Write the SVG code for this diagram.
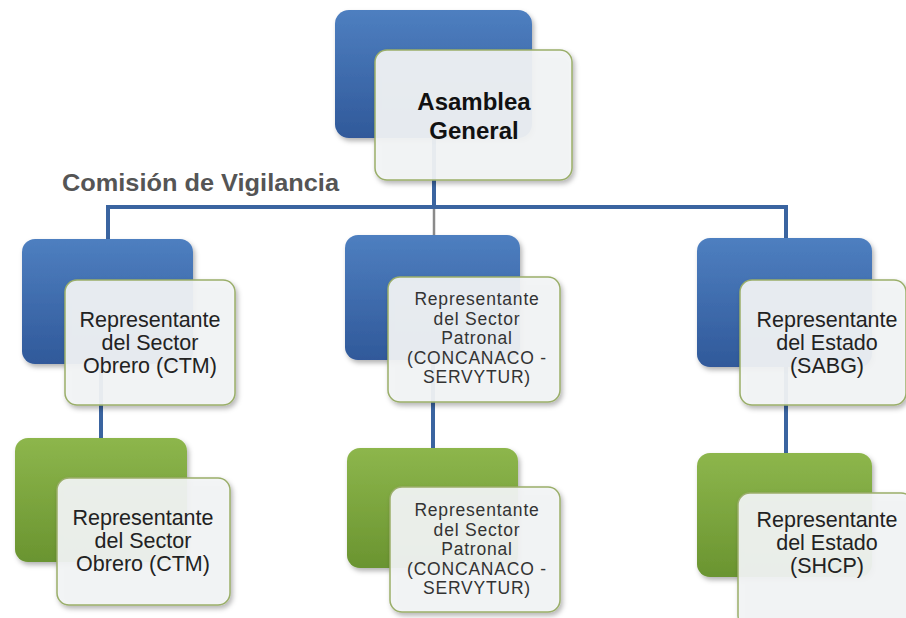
<svg xmlns="http://www.w3.org/2000/svg" width="906" height="618" viewBox="0 0 906 618">
<style>
.blue{fill:url(#gb);filter:url(#sh)}
.green{fill:url(#gg);filter:url(#sh)}
.card{fill:#f3f5f6;fill-opacity:0.92;stroke:#9aae6a;stroke-width:1.5;filter:url(#sh)}
.t{font-family:"Liberation Sans",Arial,sans-serif;fill:#222;text-anchor:middle}
.big{font-size:21.5px}
.small{font-size:17.5px;letter-spacing:0.8px;fill:#333}
.title{font-size:24px;font-weight:bold;fill:#111}
.lbl{font-family:"Liberation Sans",Arial,sans-serif;font-size:23px;font-weight:bold;fill:#555}
.c{stroke:#3a64a0;stroke-width:4;fill:none}
.cg{stroke:#8a8a8a;stroke-width:2.5;fill:none}
</style>
<defs>
<linearGradient id="gb" x1="0" y1="0" x2="0" y2="1">
<stop offset="0" stop-color="#4e7fc0"/>
<stop offset="1" stop-color="#30599a"/>
</linearGradient>
<linearGradient id="gg" x1="0" y1="0" x2="0" y2="1">
<stop offset="0" stop-color="#8db64c"/>
<stop offset="1" stop-color="#6a9430"/>
</linearGradient>
<filter id="sh" x="-10%" y="-10%" width="125%" height="130%">
<feDropShadow dx="2" dy="3" stdDeviation="2.5" flood-color="#000" flood-opacity="0.3"/>
</filter>
</defs>
<rect width="906" height="618" fill="#ffffff"/>
<g id="connectors">
<line class="c" x1="434" y1="138" x2="434" y2="207"/>
<line class="c" x1="106" y1="207" x2="788" y2="207"/>
<line class="c" x1="108" y1="205" x2="108" y2="240"/>
<line class="c" x1="786" y1="205" x2="786" y2="238"/>
<line class="cg" x1="434" y1="209" x2="434" y2="236"/>
<line class="c" x1="101" y1="363" x2="101" y2="438"/>
<line class="c" x1="433" y1="360" x2="433" y2="448"/>
<line class="c" x1="786" y1="367" x2="786" y2="453"/>
</g>
<g id="comision">
<text class="lbl" x="62" y="191" textLength="277" lengthAdjust="spacingAndGlyphs">Comisión de Vigilancia</text>
</g>
<g id="asamblea">
<rect class="blue" x="335" y="10" width="197" height="128" rx="14"/>
<rect class="card" x="375" y="50" width="197" height="130" rx="12"/>
<text class="t title" x="474" y="110">Asamblea</text>
<text class="t title" x="474" y="139">General</text>
</g>
<g id="obrero1">
<rect class="blue" x="22" y="239" width="171" height="125" rx="13"/>
<rect class="card" x="65" y="280" width="170" height="125" rx="12"/>
<text class="t big" x="150" y="327">Representante</text>
<text class="t big" x="150" y="350">del Sector</text>
<text class="t big" x="150" y="373">Obrero (CTM)</text>
</g>
<g id="patronal1">
<rect class="blue" x="345" y="235" width="175" height="125" rx="13"/>
<rect class="card" x="388" y="277" width="172" height="125" rx="12"/>
<text class="t small" x="477" y="305">Representante</text>
<text class="t small" x="477" y="324.5">del Sector</text>
<text class="t small" x="477" y="344">Patronal</text>
<text class="t small" x="477" y="363.5">(CONCANACO -</text>
<text class="t small" x="477" y="383">SERVYTUR)</text>
</g>
<g id="estado1">
<rect class="blue" x="697" y="238" width="175" height="129" rx="13"/>
<rect class="card" x="740" y="280" width="166" height="125" rx="12"/>
<text class="t big" x="827" y="327">Representante</text>
<text class="t big" x="827" y="350">del Estado</text>
<text class="t big" x="827" y="373">(SABG)</text>
</g>
<g id="obrero2">
<rect class="green" x="15" y="438" width="172" height="124" rx="13"/>
<rect class="card" x="57" y="478" width="173" height="127" rx="12"/>
<text class="t big" x="143" y="525">Representante</text>
<text class="t big" x="143" y="548">del Sector</text>
<text class="t big" x="143" y="571">Obrero (CTM)</text>
</g>
<g id="patronal2">
<rect class="green" x="347" y="448" width="171" height="120" rx="13"/>
<rect class="card" x="390" y="487" width="170" height="125" rx="12"/>
<text class="t small" x="477" y="516">Representante</text>
<text class="t small" x="477" y="535.5">del Sector</text>
<text class="t small" x="477" y="555">Patronal</text>
<text class="t small" x="477" y="574.5">(CONCANACO -</text>
<text class="t small" x="477" y="594">SERVYTUR)</text>
</g>
<g id="estado2">
<rect class="green" x="697" y="453" width="175" height="124" rx="13"/>
<rect class="card" x="738" y="493" width="175" height="135" rx="12"/>
<text class="t big" x="827" y="527">Representante</text>
<text class="t big" x="827" y="550">del Estado</text>
<text class="t big" x="827" y="573">(SHCP)</text>
</g>
</svg>
